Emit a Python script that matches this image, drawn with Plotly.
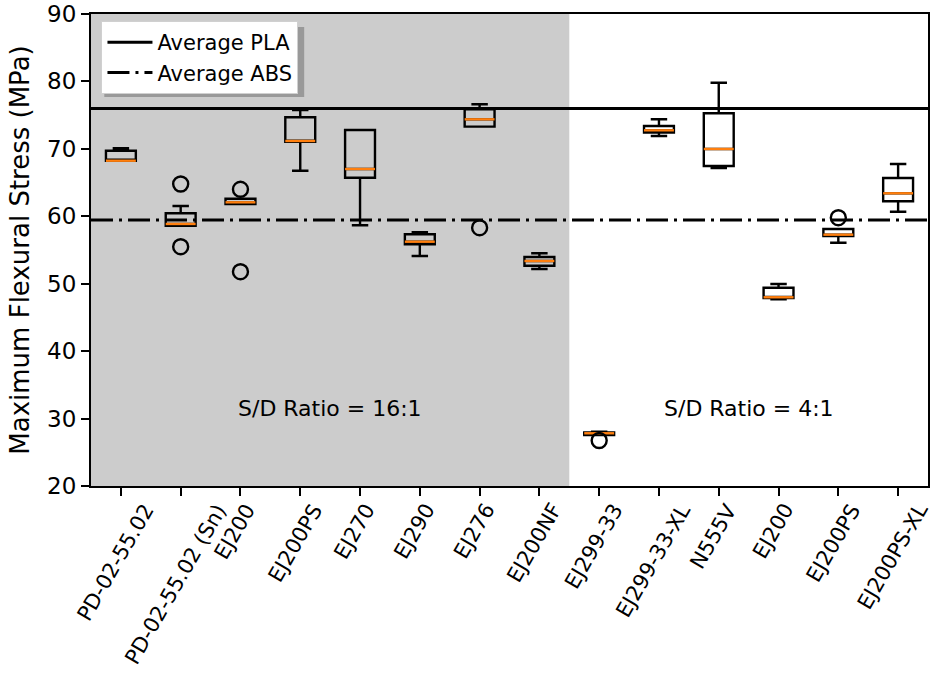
import plotly.graph_objects as go

# ---- data ----
labels = ["PD-02-55.02", "PD-02-55.02 (Sn)", "EJ200", "EJ200PS", "EJ270", "EJ290",
          "EJ276", "EJ200NF", "EJ299-33", "EJ299-33-XL", "N555V", "EJ200",
          "EJ200PS", "EJ200PS-XL"]
group_16_count = 8  # first 8 samples at S/D 16:1, remainder at 4:1
lower = [68.24, 58.6, 61.82, 66.76, 58.66, 54.11, 73.29, 52.18, 27.55, 71.9, 67.16, 47.69, 56.08, 60.68]
q1 = [68.24, 58.6, 61.82, 71.06, 65.72, 55.85, 73.29, 52.67, 27.55, 72.4, 67.46, 47.88, 57.08, 62.22]
median = [68.24, 58.86, 62.07, 71.17, 67.01, 56.23, 74.38, 53.37, 27.82, 72.75, 69.98, 47.99, 57.27, 63.41]
q3 = [69.73, 60.44, 62.61, 74.68, 72.8, 57.33, 75.87, 53.96, 27.95, 73.39, 75.27, 49.41, 58.11, 65.68]
upper = [70.1, 61.53, 62.61, 75.76, 72.8, 57.63, 76.61, 54.51, 28.05, 74.38, 79.8, 49.96, 58.11, 67.75]
outlier_pos = [2, 2, 3, 3, 7, 9, 13]
outlier_val = [64.79, 55.49, 64.0, 51.78, 58.31, 26.75, 59.79]
avg_pla = 76.0
avg_abs = 59.45
region_labels = ["S/D Ratio = 16:1", "S/D Ratio = 4:1"]
region_label_y = 31.5

FONT = "DejaVu Sans"
BOXW = 0.5
positions = list(range(1, len(labels) + 1))
xmin, xmax = 0.5, len(labels) + 0.5

fig = go.Figure()

# average lines (legend entries)
fig.add_trace(go.Scatter(x=[xmin, xmax], y=[avg_pla, avg_pla], mode="lines",
                         line=dict(color="black", width=3), name="Average PLA"))
fig.add_trace(go.Scatter(x=[xmin, xmax], y=[avg_abs, avg_abs], mode="lines",
                         line=dict(color="black", width=3, dash="22px,6px,3px,6px"),
                         name="Average ABS"))

# boxes
for i, p in enumerate(positions):
    fig.add_trace(go.Box(x=[p], q1=[q1[i]], median=[median[i]], q3=[q3[i]],
                         lowerfence=[lower[i]], upperfence=[upper[i]],
                         width=BOXW, whiskerwidth=0.55, boxpoints=False,
                         fillcolor="rgba(0,0,0,0)",
                         line=dict(color="black", width=2.4), showlegend=False,
                         hoverinfo="skip"))

# orange median lines
mx, my = [], []
for p, m in zip(positions, median):
    mx += [p - BOXW / 2, p + BOXW / 2, None]
    my += [m, m, None]
fig.add_trace(go.Scatter(x=mx, y=my, mode="lines", line=dict(color="#ff7f0e", width=2.4),
                         showlegend=False, hoverinfo="skip"))

# outliers
fig.add_trace(go.Scatter(x=outlier_pos, y=outlier_val, mode="markers",
                         marker=dict(symbol="circle-open", size=15, color="black",
                                     line=dict(width=2.4, color="black")),
                         showlegend=False))

# shaded region for first group
fig.add_shape(type="rect", xref="x", yref="paper", x0=xmin, x1=group_16_count + 0.5,
              y0=0, y1=1, fillcolor="#cccccc", line=dict(width=0), layer="below")

# region labels
left_center = (xmin + group_16_count + 0.5) / 2
right_center = (group_16_count + 0.5 + xmax) / 2
for txt, xc in zip(region_labels, [left_center, right_center]):
    fig.add_annotation(x=xc, y=region_label_y, text=txt, showarrow=False,
                       font=dict(family=FONT, size=22, color="black"))

# rotated category labels, centred under each tick (matplotlib style)
for p, lab in zip(positions, labels):
    fig.add_annotation(x=p, xref="x", y=0, yref="paper", text=lab, showarrow=False,
                       textangle=-60, xanchor="center", yanchor="top", yshift=-12,
                       xshift=-5, borderpad=0,
                       font=dict(family=FONT, size=21, color="black"))

# legend shadow
fig.add_shape(type="rect", xref="paper", yref="paper", x0=0.0159, x1=0.2547,
              y0=0.824, y1=0.9725, fillcolor="#999999", line=dict(width=0), layer="above")

fig.update_layout(
    width=936, height=696,
    margin=dict(l=91, r=8, t=14, b=210),
    plot_bgcolor="white", paper_bgcolor="white",
    font=dict(family=FONT, color="black"),
    showlegend=True,
    legend=dict(x=0.0125, y=0.985, xanchor="left", yanchor="top",
                bgcolor="white", bordercolor="#d0d0d0", borderwidth=1,
                itemwidth=45, font=dict(family=FONT, size=21), tracegroupgap=0),
    xaxis=dict(range=[xmin, xmax], tickmode="array", tickvals=positions,
               showticklabels=False, automargin=False,
               ticks="outside", ticklen=8, tickwidth=2, tickcolor="black",
               showline=True, linecolor="black", linewidth=2, mirror=True,
               showgrid=False, zeroline=False),
    yaxis=dict(range=[20, 90], dtick=10, ticks="outside", ticklen=8, tickwidth=2,
               tickcolor="black", showline=True, linecolor="black", linewidth=2,
               mirror=True, showgrid=False, zeroline=False, automargin=False,
               tickfont=dict(size=23, family=FONT),
               title=dict(text="Maximum Flexural Stress (MPa)", font=dict(size=26, family=FONT),
                          standoff=10)),
)

fig.write_html("out.html")
